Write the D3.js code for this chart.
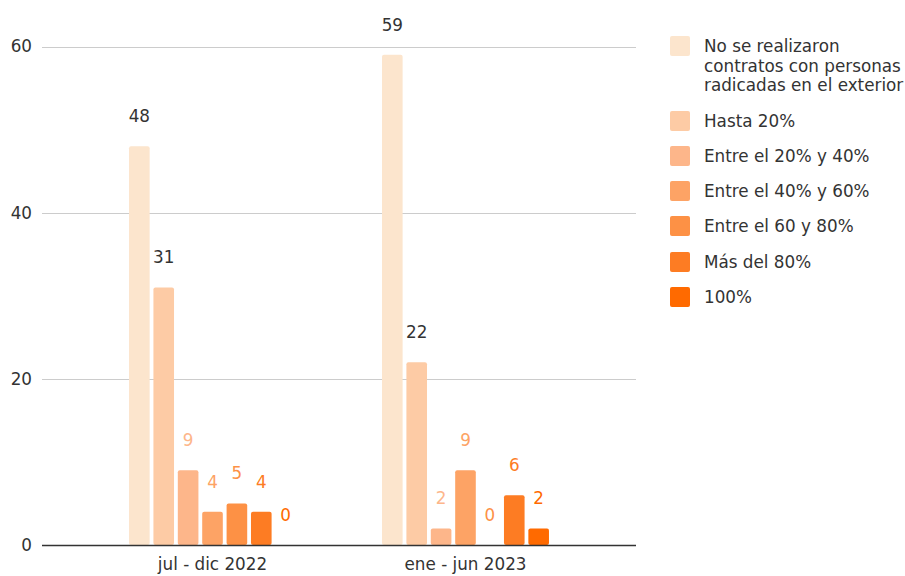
<!DOCTYPE html>
<html>
<head>
<meta charset="utf-8">
<script src="https://cdn.jsdelivr.net/npm/d3@7"></script>
<style>
  html, body { margin: 0; padding: 0; background: #fff; }
  svg { display: block; font-family: "DejaVu Sans", Verdana, sans-serif; }
</style>
</head>
<body>
<svg id="chart" width="905" height="576"></svg>
<script>
// Periods on the x axis
const categories = ["jul - dic 2022", "ene - jun 2023"];

// Share of contracts with people based abroad (one entry per legend item)
const seriesNames = [
  ["No se realizaron", "contratos con personas", "radicadas en el exterior"],
  ["Hasta 20%"],
  ["Entre el 20% y 40%"],
  ["Entre el 40% y 60%"],
  ["Entre el 60 y 80%"],
  ["Más del 80%"],
  ["100%"]
];

// Values per series, in category order
const valuesNone   = [48, 59];
const valuesTo20   = [31, 22];
const values20to40 = [9, 2];
const values40to60 = [4, 9];
const values60to80 = [5, 0];
const valuesOver80 = [4, 6];
const values100    = [0, 2];

const seriesValues = [valuesNone, valuesTo20, values20to40, values40to60, values60to80, valuesOver80, values100];

const colors = ["#fce5cd", "#fdcba5", "#fdb68a", "#fda365", "#fd9145", "#fd7c23", "#ff6a00"];
const labelColors = ["#333333", "#333333", "#fdb68a", "#fda365", "#fd9145", "#fd7c23", "#ff6a00"];

const yTicks = [0, 20, 40, 60];

const fontSize = "16.8px";
const svg = d3.select("#chart");
const plotLeft = 42, plotRight = 636, plotTop = 46.5, plotBottom = 545;

const y = d3.scaleLinear().domain([0, 60]).range([plotBottom, plotTop]);

const x0 = d3.scaleBand()
  .domain(categories)
  .range([plotLeft, plotRight])
  .paddingInner(0.34)
  .paddingOuter(0.344);

const x1 = d3.scaleBand()
  .domain(d3.range(seriesValues.length))
  .range([0, x0.bandwidth()])
  .paddingInner(0.155)
  .paddingOuter(0);

// Gridlines
svg.append("g")
  .selectAll("line")
  .data(yTicks.filter(d => d !== 0))
  .join("line")
  .attr("x1", plotLeft).attr("x2", plotRight)
  .attr("y1", d => Math.round(y(d)) + 0.5)
  .attr("y2", d => Math.round(y(d)) + 0.5)
  .attr("stroke", "#cccccc")
  .attr("stroke-width", 1);

// Y axis tick labels
const yAxis = d3.axisLeft(y).tickValues(yTicks).tickSize(0).tickPadding(10);
const gy = svg.append("g").attr("transform", `translate(${plotLeft},0)`).call(yAxis);
gy.select(".domain").remove();
gy.selectAll("text")
  .attr("fill", "#333")
  .style("font-size", fontSize)
  .style("font-family", "DejaVu Sans, Verdana, sans-serif");

// Bars and value labels
const groups = svg.append("g")
  .selectAll("g")
  .data(categories)
  .join("g")
  .attr("transform", d => `translate(${x0(d)},0)`);

groups.each(function(cat, ci) {
  const g = d3.select(this);
  const rows = seriesValues.map((vals, si) => ({ si, v: vals[ci] }));
  g.selectAll("rect")
    .data(rows.filter(r => r.v > 0))
    .join("rect")
    .attr("x", r => x1(r.si))
    .attr("width", x1.bandwidth())
    .attr("y", r => y(r.v))
    .attr("height", r => y(0) - y(r.v))
    .attr("rx", 2)
    .attr("fill", r => colors[r.si]);
  g.selectAll("text")
    .data(rows)
    .join("text")
    .attr("x", r => x1(r.si) + x1.bandwidth() / 2)
    .attr("y", r => y(r.v) - 24)
    .attr("text-anchor", "middle")
    .attr("fill", r => labelColors[r.si])
    .style("font-size", fontSize)
    .text(r => r.v);
});

// Baseline
svg.append("line")
  .attr("x1", plotLeft).attr("x2", plotRight)
  .attr("y1", plotBottom + 0.5).attr("y2", plotBottom + 0.5)
  .attr("stroke", "#333")
  .attr("stroke-width", 1.3);

// X axis labels
const xAxis = d3.axisBottom(x0).tickSize(0).tickPadding(13);
const gx = svg.append("g").attr("transform", `translate(0,${plotBottom})`).call(xAxis);
gx.select(".domain").remove();
gx.selectAll("text")
  .attr("fill", "#333")
  .style("font-size", fontSize)
  .style("font-family", "DejaVu Sans, Verdana, sans-serif");

// Legend
const legendY = [46, 121, 156, 191, 226, 262, 297];
const legend = svg.append("g");
seriesNames.forEach((lines, i) => {
  const g = legend.append("g").attr("transform", `translate(670,${legendY[i]})`);
  g.append("rect")
    .attr("x", 0).attr("y", -10)
    .attr("width", 20).attr("height", 20)
    .attr("rx", 2)
    .attr("fill", colors[i]);
  const t = g.append("text")
    .attr("x", 34).attr("y", 6)
    .attr("fill", "#333")
    .style("font-size", fontSize);
  lines.forEach((ln, k) => {
    t.append("tspan").attr("x", 34).attr("dy", k === 0 ? 0 : 19.5).text(ln);
  });
});
</script>
</body>
</html>
